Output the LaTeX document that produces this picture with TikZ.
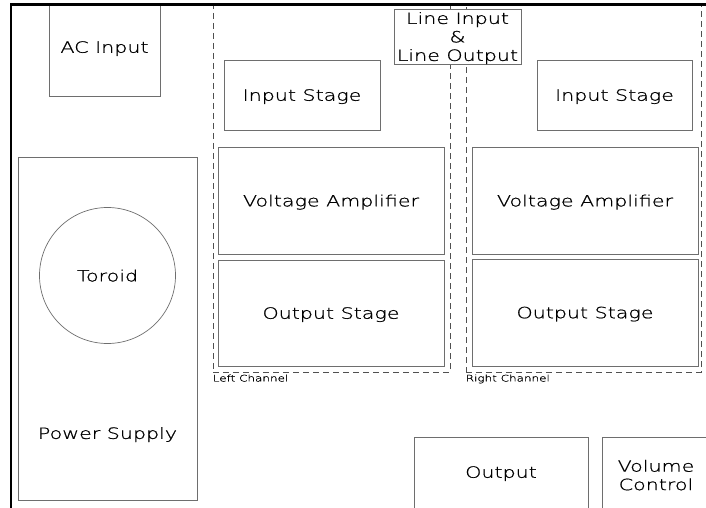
\documentclass[tikz,border=0pt]{standalone}
\usepackage{fontspec}
\setmainfont{DejaVu Sans ExtraLight}[FakeStretch=1.33, FakeBold=1]
\definecolor{boxgray}{RGB}{110,110,110}
\definecolor{dashgray}{RGB}{80,80,80}
\tikzset{
  box/.style={draw=boxgray, line width=0.8pt, rectangle, inner sep=0pt, align=center,
    text depth=0pt, font=\fontsize{15.5}{18.5}\selectfont},
  chan/.style={draw=dashgray, line width=0.8pt, dash pattern=on 6pt off 4pt, rectangle, inner sep=0pt},
  txt/.style={inner sep=0pt, align=center, text depth=0pt, font=\fontsize{15.5}{18.5}\selectfont},
  small/.style={inner sep=0pt, font=\fontsize{9}{10}\selectfont},
  frame/.style={draw=black, line width=2.6pt}
}
\begin{document}
\begin{tikzpicture}[x=1pt, y=-1pt]
\useasboundingbox (0,0) rectangle (706,508);
\clip (0,0) rectangle (706,508);
% channel groups
\node[chan, minimum width=237pt, minimum height=367.5pt] (lch) at (331.5,188.25) {};
\node[chan, minimum width=235pt, minimum height=367.5pt] (rch) at (583.5,188.25) {};
\node[small, anchor=north west] (lchl) at ([yshift=-2pt]lch.south west) {Left Channel};
\node[small, anchor=north west] (rchl) at ([yshift=-2pt]rch.south west) {Right Channel};
% AC input
\node[box, minimum width=111pt, minimum height=92pt] (ac) at (104.5,50) {};
\node[txt] (act) at (104.5,47) {AC Input};
% power supply
\node[box, minimum width=179pt, minimum height=343pt] (ps) at (107.5,328.5) {};
\node[draw=boxgray, line width=0.7pt, circle, minimum size=136pt, inner sep=0pt] (tor) at (107.5,275.5) {};
\node[txt] (tort) at (tor.center) {Toroid};
\node[txt] (pst) at (107.5,433) {Power Supply};
% line input/output
\node[box, fill=white, minimum width=127pt, minimum height=55pt] (lio) at (457.5,36.5) {Line Input\\\&\\Line Output};
% left channel
\node[box, minimum width=156pt, minimum height=70pt] (lis) at (302,95) {Input Stage};
\node[box, minimum width=226pt, minimum height=107pt] (lva) at (331,200.5) {Voltage Amplifier};
\node[box, minimum width=226pt, minimum height=106pt] (los) at (331,313) {Output Stage};
% right channel
\node[box, minimum width=155pt, minimum height=70pt] (ris) at (614.5,95) {Input Stage};
\node[box, minimum width=226pt, minimum height=107pt] (rva) at (585,200.5) {Voltage Amplifier};
\node[box, minimum width=226pt, minimum height=107pt] (ros) at (585,312.5) {Output Stage};
% bottom
\node[box, minimum width=174pt, minimum height=110pt] (out) at (501,492) {};
\node[txt] (outt) at (501,472) {Output};
\node[box, minimum width=130pt, minimum height=110pt] (vol) at (667,492) {};
\node[txt] (volt) at (656,475) {Volume\\Control};
% frame
\coordinate (fbl) at (11,520);
\coordinate (ftl) at (11,4.5);
\coordinate (ftr) at (720,4.5);
\draw[frame] (fbl) -- (ftl) -- (ftr);
\end{tikzpicture}
\end{document}
